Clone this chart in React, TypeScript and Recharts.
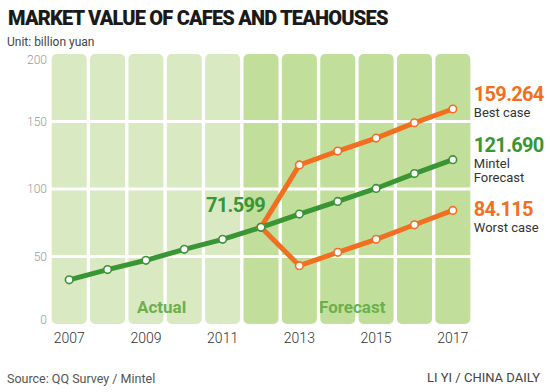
import React from 'react'
import {
  ComposedChart,
  Bar,
  Line,
  Cell,
  XAxis,
  YAxis,
  ReferenceLine,
  LabelList,
} from 'recharts'

const years = ['2007', '2008', '2009', '2010', '2011', '2012', '2013', '2014', '2015', '2016', '2017']
const phase = ['Actual', 'Actual', 'Actual', 'Actual', 'Actual', 'Forecast', 'Forecast', 'Forecast', 'Forecast', 'Forecast', 'Forecast']
const mintel = [32.7, 40.3, 47.2, 55.3, 62.7, 71.599, 81.4, 90.8, 100.4, 111.4, 121.69]
const bestCase = [null, null, null, null, null, 71.599, 117.8, 128.1, 137.7, 149.0, 159.264]
const worstCase = [null, null, null, null, null, 71.599, 43.2, 53.1, 62.7, 73.5, 84.115]
const yTicks = [0, 50, 100, 150, 200]

const GREEN = '#3a9535'
const ORANGE = '#f26f21'
const ACTUAL_FILL = '#d9e9c2'
const FORECAST_FILL = '#c1df9b'
const NUM_FONT = 'Roboto, "Liberation Sans", sans-serif'

const data = years.map((year, i) => ({
  year,
  column: yTicks[yTicks.length - 1],
  mintel: mintel[i],
  best: bestCase[i],
  worst: worstCase[i],
}))

const lastIdx = years.length - 1

function endLabel(color: string, captions: string[], dy: number) {
  return (props: any) => {
    const { x, y, value, index } = props
    if (index !== lastIdx) return null
    const tx = x + 21
    return (
      <g>
        <text x={tx} y={y + dy} fill={color} fontFamily={NUM_FONT} fontWeight={700} fontSize={20} letterSpacing={-0.7}>
          {Number(value).toFixed(3)}
        </text>
        {captions.map((c, k) => (
          <text key={c} x={tx} y={y + dy + 16 + k * 14} fill="#333" fontFamily={NUM_FONT} fontSize={13}>
            {c}
          </text>
        ))}
      </g>
    )
  }
}

function pivotLabel(props: any) {
  const { x, y, value, index } = props
  if (index !== 5) return null
  return (
    <text x={x + 4} y={y - 15} textAnchor="end" fill={GREEN} fontFamily={NUM_FONT} fontWeight={700} fontSize={20} letterSpacing={-0.7}>
      {value}
    </text>
  )
}

// the axis ends sit a little inside the columns in the original
function YTick(props: any) {
  const { x, y, payload } = props
  const nudge = payload.value === 200 ? 6 : payload.value === 0 ? -4 : 0
  return (
    <text x={x} y={y + nudge} dy="0.355em" textAnchor="end" fill="#999" fontSize={12} fontWeight={300} fontFamily={NUM_FONT}>
      {payload.value}
    </text>
  )
}

const dotStyle = (color: string) => ({ r: 3.8, fill: '#fff', stroke: color, strokeWidth: 1.6 })

export default function App() {
  return (
    <div
      style={{
        position: 'absolute',
        left: 0,
        top: 0,
        width: 550,
        height: 392,
        background: '#fff',
        fontFamily: NUM_FONT,
      }}
    >
      <div
        style={{
          position: 'absolute',
          left: 8,
          top: 6,
          fontSize: 20,
          fontWeight: 900,
          letterSpacing: -0.8,
          color: '#1a1a1a',
          whiteSpace: 'nowrap',
        }}
      >
        MARKET VALUE OF CAFES AND TEAHOUSES
      </div>
      <div style={{ position: 'absolute', left: 7, top: 35, fontSize: 12, color: '#444' }}>
        Unit: billion yuan
      </div>

      <ComposedChart
        width={550}
        height={392}
        data={data}
        margin={{ top: 54, right: 78, bottom: 38, left: 10 }}
        barCategoryGap={1.7}
        style={{ position: 'absolute', left: 0, top: 0 }}
      >
        <XAxis
          dataKey="year"
          interval={1}
          axisLine={false}
          tickLine={false}
          tickSize={0}
          tickMargin={9}
          tick={{ fill: '#333', fontSize: 14, fontWeight: 300, fontFamily: NUM_FONT }}
        />
        <YAxis
          width={40}
          domain={[0, 200]}
          ticks={yTicks}
          axisLine={false}
          tickLine={false}
          tickSize={0}
          tickMargin={3}
          tick={<YTick />}
        />
        <Bar dataKey="column" radius={5} isAnimationActive={false}>
          {data.map((d, i) => (
            <Cell key={d.year} fill={phase[i] === 'Actual' ? ACTUAL_FILL : FORECAST_FILL} />
          ))}
        </Bar>
        {yTicks.slice(1, -1).map((t) => (
          <ReferenceLine key={t} y={t} stroke="#fff" strokeWidth={3} />
        ))}
        <Line
          dataKey="best"
          stroke={ORANGE}
          strokeWidth={5}
          dot={dotStyle(ORANGE)}
          isAnimationActive={false}
        >
          <LabelList dataKey="best" content={endLabel(ORANGE, ['Best case'], -8)} />
        </Line>
        <Line
          dataKey="worst"
          stroke={ORANGE}
          strokeWidth={5}
          dot={dotStyle(ORANGE)}
          isAnimationActive={false}
        >
          <LabelList dataKey="worst" content={endLabel(ORANGE, ['Worst case'], 6)} />
        </Line>
        <Line
          dataKey="mintel"
          stroke={GREEN}
          strokeWidth={5}
          dot={dotStyle(GREEN)}
          isAnimationActive={false}
        >
          <LabelList dataKey="mintel" content={pivotLabel} />
          <LabelList dataKey="mintel" content={endLabel(GREEN, ['Mintel', 'Forecast'], -8)} />
        </Line>
      </ComposedChart>

      <div style={{ position: 'absolute', left: 137, top: 297, fontSize: 17, fontWeight: 700, color: '#6cb04e' }}>
        Actual
      </div>
      <div style={{ position: 'absolute', left: 319, top: 297, fontSize: 17, fontWeight: 700, color: '#6cb04e' }}>
        Forecast
      </div>

      <div style={{ position: 'absolute', left: 7, top: 371, fontSize: 12.5, color: '#555' }}>
        Source: QQ Survey / Mintel
      </div>
      <div style={{ position: 'absolute', right: 10, top: 370, fontSize: 13, color: '#444' }}>
        LI YI / CHINA DAILY
      </div>
    </div>
  )
}
